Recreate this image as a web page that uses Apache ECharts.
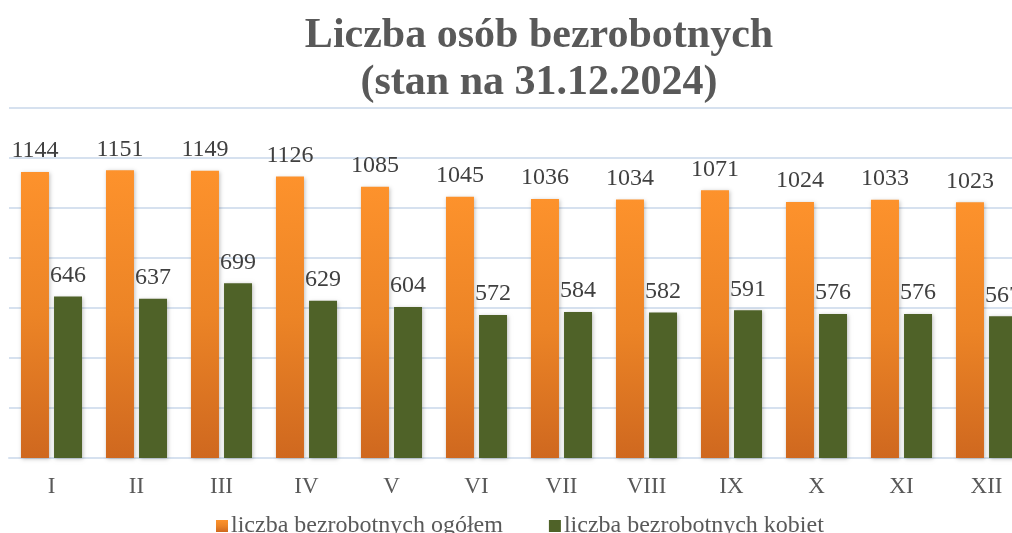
<!DOCTYPE html>
<html>
<head>
<meta charset="utf-8">
<script src="https://cdn.jsdelivr.net/npm/echarts@6/dist/echarts.min.js"></script>
<style>
  html, body { margin: 0; padding: 0; background: #fff; overflow: hidden; }
  #chart { width: 1040px; height: 533px; }
</style>
</head>
<body>
<div id="chart"></div>
<script>
const months = ["I", "II", "III", "IV", "V", "VI", "VII", "VIII", "IX", "X", "XI", "XII"];
const totalUnemployed = [1144, 1151, 1149, 1126, 1085, 1045, 1036, 1034, 1071, 1024, 1033, 1023];
const womenUnemployed = [646, 637, 699, 629, 604, 572, 584, 582, 591, 576, 576, 567];
const seriesNames = ["liczba bezrobotnych ogółem", "liczba bezrobotnych kobiet"];

const SERIF = "'Liberation Serif', 'DejaVu Serif', serif";

// the plot runs past the right edge of the window, like the source image
const chart = echarts.init(document.getElementById("chart"));

const labelStyle = {
  show: true,
  position: "top",
  distance: 9,
  fontFamily: SERIF,
  fontSize: 24,
  color: "#404040"
};

chart.setOption({
  animation: false,
  title: {
    text: "Liczba osób bezrobotnych\n(stan na 31.12.2024)",
    left: 534,
    top: 8,
    textAlign: "center",
    textStyle: {
      fontFamily: SERIF,
      fontWeight: "bold",
      fontSize: 42,
      lineHeight: 47,
      color: "#595959"
    }
  },
  legend: {
    left: 211,
    top: 509,
    itemWidth: 12,
    itemHeight: 12,
    itemGap: 46,
    icon: "rect",
    textStyle: { fontFamily: SERIF, fontSize: 24, color: "#595959", padding: [0, 0, 0, -2] },
    data: seriesNames
  },
  grid: { left: 9, width: 1020, top: 108, bottom: 75 },
  xAxis: {
    type: "category",
    data: months,
    axisTick: { show: false },
    axisLine: { lineStyle: { color: "#d6e1ef", width: 2 } },
    axisLabel: { fontFamily: SERIF, fontSize: 23, color: "#595959", margin: 17 }
  },
  yAxis: {
    type: "value",
    min: 0,
    max: 1400,
    interval: 200,
    axisLabel: { show: false },
    axisLine: { show: false },
    axisTick: { show: false },
    splitLine: { lineStyle: { color: "#d6e1ef", width: 2 } }
  },
  series: [
    {
      name: seriesNames[0],
      type: "bar",
      data: totalUnemployed,
      barWidth: 28,
      barGap: "18%",
      itemStyle: {
        color: new echarts.graphic.LinearGradient(0, 0, 0, 1, [
          { offset: 0, color: "#fd922c" },
          { offset: 0.5, color: "#ec8426" },
          { offset: 1, color: "#cf681f" }
        ]),
        shadowColor: "rgba(0,0,0,0.25)",
        shadowBlur: 4,
        shadowOffsetX: 1,
        shadowOffsetY: 1
      },
      label: labelStyle
    },
    {
      name: seriesNames[1],
      type: "bar",
      data: womenUnemployed,
      barWidth: 28,
      itemStyle: {
        color: "#4f6228",
        shadowColor: "rgba(0,0,0,0.25)",
        shadowBlur: 4,
        shadowOffsetX: 1,
        shadowOffsetY: 1
      },
      label: labelStyle
    }
  ]
});
</script>
</body>
</html>
